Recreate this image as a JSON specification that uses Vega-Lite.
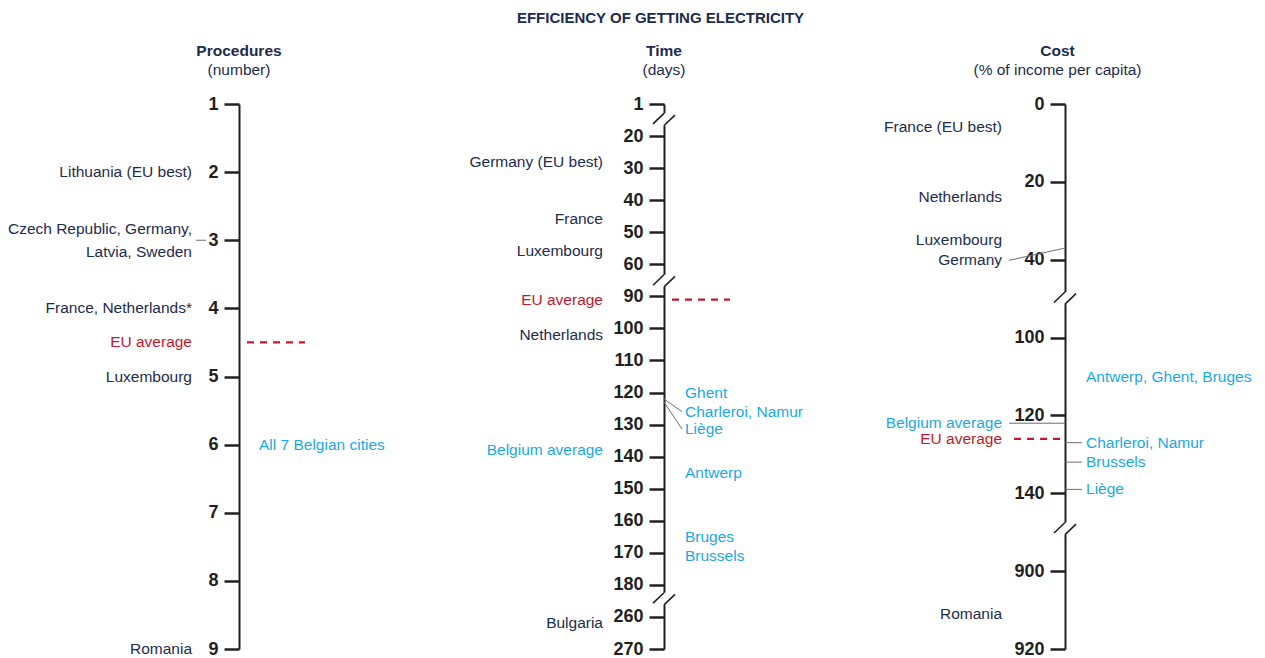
{
  "$schema": "https://vega.github.io/schema/vega-lite/v6.json",
  "padding": {"left": 0, "right": 0, "top": 11, "bottom": 0},
  "title": {"text": "EFFICIENCY OF GETTING ELECTRICITY", "fontSize": 15, "fontWeight": "bold", "anchor": "middle", "dx": 28, "offset": 18, "color": "#1d2b4e"},
  "datasets": {
    "labels": [
      {"panel": "Procedures", "name": "Lithuania (EU best)", "value": 2, "label_at": 2, "group": "country", "leader": false},
      {"panel": "Procedures", "name": "Czech Republic, Germany,\nLatvia, Sweden", "value": 3, "label_at": 2.84, "group": "country", "leader": true},
      {"panel": "Procedures", "name": "France, Netherlands*", "value": 4, "label_at": 4, "group": "country", "leader": false},
      {"panel": "Procedures", "name": "EU average", "value": 4.5, "label_at": 4.5, "group": "eu", "leader": false},
      {"panel": "Procedures", "name": "Luxembourg", "value": 5, "label_at": 5, "group": "country", "leader": false},
      {"panel": "Procedures", "name": "All 7 Belgian cities", "value": 6, "label_at": 6, "group": "city", "leader": false},
      {"panel": "Procedures", "name": "Romania", "value": 9, "label_at": 9, "group": "country", "leader": false},
      {"panel": "Time", "name": "Germany (EU best)", "value": 28, "label_at": 28, "group": "country", "leader": false},
      {"panel": "Time", "name": "France", "value": 46, "label_at": 46, "group": "country", "leader": false},
      {"panel": "Time", "name": "Luxembourg", "value": 56, "label_at": 56, "group": "country", "leader": false},
      {"panel": "Time", "name": "EU average", "value": 91, "label_at": 91, "group": "eu", "leader": false},
      {"panel": "Time", "name": "Netherlands", "value": 102, "label_at": 102, "group": "country", "leader": false},
      {"panel": "Time", "name": "Belgium average", "value": 138, "label_at": 138, "group": "belavg", "leader": false},
      {"panel": "Time", "name": "Bulgaria", "value": 262, "label_at": 262, "group": "country", "leader": false},
      {"panel": "Time", "name": "Ghent", "value": 120, "label_at": 120, "group": "city", "leader": false},
      {"panel": "Time", "name": "Charleroi, Namur", "value": 122, "label_at": 126, "group": "city", "leader": true},
      {"panel": "Time", "name": "Liège", "value": 123, "label_at": 131.4, "group": "city", "leader": true},
      {"panel": "Time", "name": "Antwerp", "value": 145, "label_at": 145, "group": "city", "leader": false},
      {"panel": "Time", "name": "Bruges", "value": 165, "label_at": 165, "group": "city", "leader": false},
      {"panel": "Time", "name": "Brussels", "value": 171, "label_at": 171, "group": "city", "leader": false},
      {"panel": "Cost", "name": "France (EU best)", "value": 6, "label_at": 6, "group": "country", "leader": false},
      {"panel": "Cost", "name": "Netherlands", "value": 24, "label_at": 24, "group": "country", "leader": false},
      {"panel": "Cost", "name": "Luxembourg", "value": 35, "label_at": 35, "group": "country", "leader": false},
      {"panel": "Cost", "name": "Germany", "value": 37, "label_at": 40.5, "group": "country", "leader": true},
      {"panel": "Cost", "name": "Belgium average", "value": 122, "label_at": 122, "group": "belavg", "leader": true},
      {"panel": "Cost", "name": "EU average", "value": 126, "label_at": 126, "group": "eu", "leader": false},
      {"panel": "Cost", "name": "Antwerp, Ghent, Bruges", "value": 110, "label_at": 110, "group": "city", "leader": false},
      {"panel": "Cost", "name": "Charleroi, Namur", "value": 127, "label_at": 127, "group": "city", "leader": true},
      {"panel": "Cost", "name": "Brussels", "value": 132, "label_at": 132, "group": "city", "leader": true},
      {"panel": "Cost", "name": "Liège", "value": 139, "label_at": 139, "group": "city", "leader": true},
      {"panel": "Cost", "name": "Romania", "value": 911, "label_at": 911, "group": "country", "leader": false}
    ],
    "breaks": [
      {"panel": "Time", "at": 10.5},
      {"panel": "Time", "at": 76},
      {"panel": "Time", "at": 216},
      {"panel": "Cost", "at": 70},
      {"panel": "Cost", "at": 490}
    ]
  },
  "spacing": 0,
  "bounds": "flush",
  "resolve": {"scale": {"x": "independent", "y": "independent"}},
  "hconcat": [
    {
      "width": 478, "height": 545,
      "title": {"text": "Procedures", "subtitle": "(number)"},
      "data": {"name": "labels"},
      "layer": [
        {
          "transform": [{"filter": "datum.panel === 'Procedures' && datum.group !== 'city'"}],
          "mark": {"type": "text", "align": "right", "baseline": "middle", "dx": -47, "lineBreak": "\n", "lineHeight": 23},
          "encoding": {
            "x": {"datum": 0, "type": "quantitative", "scale": {"domain": [-1, 1]}, "axis": null},
            "y": {"field": "label_at", "type": "quantitative", "scale": {"domain": [1, 9], "range": [0, 545], "nice": false, "zero": false}, "axis": {"values": [1, 2, 3, 4, 5, 6, 7, 8, 9], "offset": -239, "title": null}},
            "text": {"field": "name"},
            "color": {"field": "group", "type": "nominal", "scale": {"domain": ["country", "eu", "belavg", "city"], "range": ["#1d2b4e", "#c3182c", "#19a9e5", "#19a9e5"]}, "legend": null}
          }
        },
        {
          "transform": [{"filter": "datum.panel === 'Procedures' && datum.group === 'city'"}],
          "mark": {"type": "text", "align": "left", "baseline": "middle", "dx": 20},
          "encoding": {
            "x": {"datum": 0, "type": "quantitative", "scale": {"domain": [-1, 1]}, "axis": null},
            "y": {"field": "label_at", "type": "quantitative", "scale": {"domain": [1, 9], "range": [0, 545], "nice": false, "zero": false}, "axis": {"values": [1, 2, 3, 4, 5, 6, 7, 8, 9], "offset": -239, "title": null}},
            "text": {"field": "name"},
            "color": {"field": "group", "type": "nominal", "scale": {"domain": ["country", "eu", "belavg", "city"], "range": ["#1d2b4e", "#c3182c", "#19a9e5", "#19a9e5"]}, "legend": null}
          }
        },
        {
          "transform": [{"filter": "datum.panel === 'Procedures' && datum.group === 'eu'"}],
          "mark": {"type": "rule", "color": "#c3182c", "strokeWidth": 2.2, "strokeDash": [7, 6]},
          "encoding": {
            "x": {"datum": 0.0335, "type": "quantitative", "scale": {"domain": [-1, 1]}, "axis": null},
            "x2": {"datum": 0.276},
            "y": {"field": "value", "type": "quantitative", "scale": {"domain": [1, 9], "range": [0, 545], "nice": false, "zero": false}, "axis": {"values": [1, 2, 3, 4, 5, 6, 7, 8, 9], "offset": -239, "title": null}}
          }
        },
        {
          "transform": [{"filter": "datum.panel === 'Procedures' && datum.leader"}],
          "mark": {"type": "rule", "color": "#6d6e71", "strokeWidth": 1},
          "encoding": {
            "x": {"datum": -0.18, "type": "quantitative", "scale": {"domain": [-1, 1]}, "axis": null},
            "x2": {"datum": -0.138},
            "y": {"field": "value", "type": "quantitative", "scale": {"domain": [1, 9], "range": [0, 545], "nice": false, "zero": false}, "axis": {"values": [1, 2, 3, 4, 5, 6, 7, 8, 9], "offset": -239, "title": null}}
          }
        }
      ]
    },
    {
      "width": 372, "height": 545,
      "title": {"text": "Time", "subtitle": "(days)"},
      "data": {"name": "labels"},
      "layer": [
        {
          "transform": [{"filter": "datum.panel === 'Time' && datum.group !== 'city'"}],
          "mark": {"type": "text", "align": "right", "baseline": "middle", "dx": -61},
          "encoding": {
            "x": {"datum": 0, "type": "quantitative", "scale": {"domain": [-1, 1]}, "axis": null},
            "y": {"field": "label_at", "type": "quantitative", "scale": {"domain": [1, 20, 60, 90, 180, 260, 270], "range": [0, 32.06, 160.29, 192.35, 480.88, 512.94, 545], "nice": false, "zero": false}, "axis": {"values": [1, 20, 30, 40, 50, 60, 90, 100, 110, 120, 130, 140, 150, 160, 170, 180, 260, 270], "offset": -186, "title": null}},
            "text": {"field": "name"},
            "color": {"field": "group", "type": "nominal", "scale": {"domain": ["country", "eu", "belavg", "city"], "range": ["#1d2b4e", "#c3182c", "#19a9e5", "#19a9e5"]}, "legend": null}
          }
        },
        {
          "transform": [{"filter": "datum.panel === 'Time' && datum.group === 'city'"}],
          "mark": {"type": "text", "align": "left", "baseline": "middle", "dx": 21},
          "encoding": {
            "x": {"datum": 0, "type": "quantitative", "scale": {"domain": [-1, 1]}, "axis": null},
            "y": {"field": "label_at", "type": "quantitative", "scale": {"domain": [1, 20, 60, 90, 180, 260, 270], "range": [0, 32.06, 160.29, 192.35, 480.88, 512.94, 545], "nice": false, "zero": false}, "axis": {"values": [1, 20, 30, 40, 50, 60, 90, 100, 110, 120, 130, 140, 150, 160, 170, 180, 260, 270], "offset": -186, "title": null}},
            "text": {"field": "name"},
            "color": {"field": "group", "type": "nominal", "scale": {"domain": ["country", "eu", "belavg", "city"], "range": ["#1d2b4e", "#c3182c", "#19a9e5", "#19a9e5"]}, "legend": null}
          }
        },
        {
          "transform": [{"filter": "datum.panel === 'Time' && datum.group === 'eu'"}],
          "mark": {"type": "rule", "color": "#c3182c", "strokeWidth": 2.2, "strokeDash": [7, 6]},
          "encoding": {
            "x": {"datum": 0.043, "type": "quantitative", "scale": {"domain": [-1, 1]}, "axis": null},
            "x2": {"datum": 0.355},
            "y": {"field": "value", "type": "quantitative", "scale": {"domain": [1, 20, 60, 90, 180, 260, 270], "range": [0, 32.06, 160.29, 192.35, 480.88, 512.94, 545], "nice": false, "zero": false}, "axis": {"values": [1, 20, 30, 40, 50, 60, 90, 100, 110, 120, 130, 140, 150, 160, 170, 180, 260, 270], "offset": -186, "title": null}}
          }
        },
        {
          "transform": [{"filter": "datum.panel === 'Time' && datum.leader"}],
          "mark": {"type": "rule", "color": "#6d6e71", "strokeWidth": 1},
          "encoding": {
            "x": {"datum": 0, "type": "quantitative", "scale": {"domain": [-1, 1]}, "axis": null},
            "x2": {"datum": 0.097},
            "y": {"field": "value", "type": "quantitative", "scale": {"domain": [1, 20, 60, 90, 180, 260, 270], "range": [0, 32.06, 160.29, 192.35, 480.88, 512.94, 545], "nice": false, "zero": false}, "axis": {"values": [1, 20, 30, 40, 50, 60, 90, 100, 110, 120, 130, 140, 150, 160, 170, 180, 260, 270], "offset": -186, "title": null}},
            "y2": {"field": "label_at"}
          }
        },
        {
          "data": {"name": "breaks"},
          "transform": [{"filter": "datum.panel === 'Time'"}],
          "mark": {"type": "point", "shape": "M0,-0.6L0,0.5", "size": 484, "filled": false, "color": "white", "stroke": "white", "strokeWidth": 5, "opacity": 1},
          "encoding": {
            "x": {"datum": 0, "type": "quantitative", "scale": {"domain": [-1, 1]}, "axis": null},
            "y": {"field": "at", "type": "quantitative", "scale": {"domain": [1, 20, 60, 90, 180, 260, 270], "range": [0, 32.06, 160.29, 192.35, 480.88, 512.94, 545], "nice": false, "zero": false}, "axis": {"values": [1, 20, 30, 40, 50, 60, 90, 100, 110, 120, 130, 140, 150, 160, 170, 180, 260, 270], "offset": -186, "title": null}}
          }
        },
        {
          "data": {"name": "breaks"},
          "transform": [{"filter": "datum.panel === 'Time'"}],
          "mark": {"type": "point", "shape": "M0,-0.6L-1,0.35M0,0.5L1,-0.45", "size": 484, "filled": false, "color": "#231f20", "stroke": "#231f20", "strokeWidth": 1.6, "opacity": 1},
          "encoding": {
            "x": {"datum": 0, "type": "quantitative", "scale": {"domain": [-1, 1]}, "axis": null},
            "y": {"field": "at", "type": "quantitative", "scale": {"domain": [1, 20, 60, 90, 180, 260, 270], "range": [0, 32.06, 160.29, 192.35, 480.88, 512.94, 545], "nice": false, "zero": false}, "axis": {"values": [1, 20, 30, 40, 50, 60, 90, 100, 110, 120, 130, 140, 150, 160, 170, 180, 260, 270], "offset": -186, "title": null}}
          }
        }
      ]
    },
    {
      "width": 415, "height": 545,
      "title": {"text": "Cost", "subtitle": "(% of income per capita)"},
      "data": {"name": "labels"},
      "layer": [
        {
          "transform": [{"filter": "datum.panel === 'Cost' && datum.group !== 'city'"}],
          "mark": {"type": "text", "align": "right", "baseline": "middle", "dx": -63},
          "encoding": {
            "x": {"datum": 0, "type": "quantitative", "scale": {"domain": [-1, 0.93]}, "axis": null},
            "y": {"field": "label_at", "type": "quantitative", "scale": {"domain": [0, 40, 100, 140, 900, 920], "range": [0, 155.71, 233.57, 389.29, 467.14, 545], "nice": false, "zero": false}, "axis": {"values": [0, 20, 40, 100, 120, 140, 900, 920], "offset": -215, "title": null}},
            "text": {"field": "name"},
            "color": {"field": "group", "type": "nominal", "scale": {"domain": ["country", "eu", "belavg", "city"], "range": ["#1d2b4e", "#c3182c", "#19a9e5", "#19a9e5"]}, "legend": null}
          }
        },
        {
          "transform": [{"filter": "datum.panel === 'Cost' && datum.group === 'city'"}],
          "mark": {"type": "text", "align": "left", "baseline": "middle", "dx": 21},
          "encoding": {
            "x": {"datum": 0, "type": "quantitative", "scale": {"domain": [-1, 0.93]}, "axis": null},
            "y": {"field": "label_at", "type": "quantitative", "scale": {"domain": [0, 40, 100, 140, 900, 920], "range": [0, 155.71, 233.57, 389.29, 467.14, 545], "nice": false, "zero": false}, "axis": {"values": [0, 20, 40, 100, 120, 140, 900, 920], "offset": -215, "title": null}},
            "text": {"field": "name"},
            "color": {"field": "group", "type": "nominal", "scale": {"domain": ["country", "eu", "belavg", "city"], "range": ["#1d2b4e", "#c3182c", "#19a9e5", "#19a9e5"]}, "legend": null}
          }
        },
        {
          "transform": [{"filter": "datum.panel === 'Cost' && datum.group === 'eu'"}],
          "mark": {"type": "rule", "color": "#c3182c", "strokeWidth": 2.2, "strokeDash": [7, 6]},
          "encoding": {
            "x": {"datum": -0.237, "type": "quantitative", "scale": {"domain": [-1, 0.93]}, "axis": null},
            "x2": {"datum": -0.014},
            "y": {"field": "value", "type": "quantitative", "scale": {"domain": [0, 40, 100, 140, 900, 920], "range": [0, 155.71, 233.57, 389.29, 467.14, 545], "nice": false, "zero": false}, "axis": {"values": [0, 20, 40, 100, 120, 140, 900, 920], "offset": -215, "title": null}}
          }
        },
        {
          "transform": [{"filter": "datum.panel === 'Cost' && datum.leader && datum.group !== 'city'"}],
          "mark": {"type": "rule", "color": "#6d6e71", "strokeWidth": 1},
          "encoding": {
            "x": {"datum": -0.26, "type": "quantitative", "scale": {"domain": [-1, 0.93]}, "axis": null},
            "x2": {"datum": 0},
            "y": {"field": "label_at", "type": "quantitative", "scale": {"domain": [0, 40, 100, 140, 900, 920], "range": [0, 155.71, 233.57, 389.29, 467.14, 545], "nice": false, "zero": false}, "axis": {"values": [0, 20, 40, 100, 120, 140, 900, 920], "offset": -215, "title": null}},
            "y2": {"field": "value"}
          }
        },
        {
          "transform": [{"filter": "datum.panel === 'Cost' && datum.leader && datum.group === 'city'"}],
          "mark": {"type": "rule", "color": "#6d6e71", "strokeWidth": 1},
          "encoding": {
            "x": {"datum": 0, "type": "quantitative", "scale": {"domain": [-1, 0.93]}, "axis": null},
            "x2": {"datum": 0.079},
            "y": {"field": "value", "type": "quantitative", "scale": {"domain": [0, 40, 100, 140, 900, 920], "range": [0, 155.71, 233.57, 389.29, 467.14, 545], "nice": false, "zero": false}, "axis": {"values": [0, 20, 40, 100, 120, 140, 900, 920], "offset": -215, "title": null}},
            "y2": {"field": "label_at"}
          }
        },
        {
          "data": {"name": "breaks"},
          "transform": [{"filter": "datum.panel === 'Cost'"}],
          "mark": {"type": "point", "shape": "M0,-0.6L0,0.5", "size": 484, "filled": false, "color": "white", "stroke": "white", "strokeWidth": 5, "opacity": 1},
          "encoding": {
            "x": {"datum": 0, "type": "quantitative", "scale": {"domain": [-1, 0.93]}, "axis": null},
            "y": {"field": "at", "type": "quantitative", "scale": {"domain": [0, 40, 100, 140, 900, 920], "range": [0, 155.71, 233.57, 389.29, 467.14, 545], "nice": false, "zero": false}, "axis": {"values": [0, 20, 40, 100, 120, 140, 900, 920], "offset": -215, "title": null}}
          }
        },
        {
          "data": {"name": "breaks"},
          "transform": [{"filter": "datum.panel === 'Cost'"}],
          "mark": {"type": "point", "shape": "M0,-0.6L-1,0.35M0,0.5L1,-0.45", "size": 484, "filled": false, "color": "#231f20", "stroke": "#231f20", "strokeWidth": 1.6, "opacity": 1},
          "encoding": {
            "x": {"datum": 0, "type": "quantitative", "scale": {"domain": [-1, 0.93]}, "axis": null},
            "y": {"field": "at", "type": "quantitative", "scale": {"domain": [0, 40, 100, 140, 900, 920], "range": [0, 155.71, 233.57, 389.29, 467.14, 545], "nice": false, "zero": false}, "axis": {"values": [0, 20, 40, 100, 120, 140, 900, 920], "offset": -215, "title": null}}
          }
        }
      ]
    }
  ],
  "config": {
    "font": "Liberation Sans",
    "view": {"stroke": null},
    "text": {"font": "Liberation Sans", "fontSize": 15.5},
    "title": {"font": "Liberation Sans", "fontSize": 15.5, "fontWeight": "bold", "color": "#1d2b4e", "subtitleFont": "Liberation Sans", "subtitleFontSize": 15.5, "subtitleColor": "#1d2b4e", "subtitlePadding": 3, "offset": 17, "anchor": "middle"},
    "axis": {"domainColor": "#231f20", "domainWidth": 2, "tickColor": "#231f20", "tickWidth": 2.5, "tickSize": 15, "labelFont": "Liberation Sans", "labelFontWeight": "bold", "labelFontSize": 18, "labelColor": "#231f20", "labelPadding": 6, "grid": false, "labelOverlap": false}
  }
}
